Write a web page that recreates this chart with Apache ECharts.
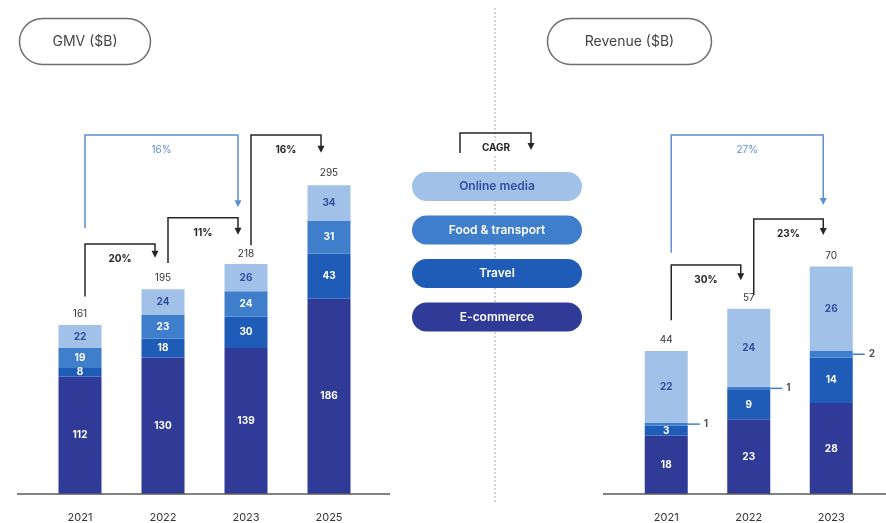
<!DOCTYPE html>
<html>
<head>
<meta charset="utf-8">
<script src="https://cdn.jsdelivr.net/npm/echarts@6/dist/echarts.min.js"></script>
<style>
  html, body { margin: 0; padding: 0; background: #fff; }
  #chart { width: 886px; height: 523px; }
</style>
</head>
<body>
<div id="chart"></div>
<script>
// ---- GMV ($B) by segment ----
const gmvYears = ['2021', '2022', '2023', '2025'];
const gmvEcommerce = [112, 130, 139, 186];
const gmvTravel = [8, 18, 30, 43];
const gmvFood = [19, 23, 24, 31];
const gmvMedia = [22, 24, 26, 34];
const gmvTotals = [161, 195, 218, 295];

// ---- Revenue ($B) by segment ----
const revYears = ['2021', '2022', '2023'];
const revEcommerce = [18, 23, 28];
const revTravel = [3, 9, 14];
const revFood = [1, 1, 2];
const revMedia = [22, 24, 26];
const revTotals = [44, 57, 70];

// ---- CAGR brackets: [fromIndex, toIndex, label] ----
const gmvCagr = [[0, 1, '20%'], [1, 2, '11%'], [2, 3, '16%']];
const gmvCagrLong = [[0, 2, '16%']];
const revCagr = [[0, 1, '30%'], [1, 2, '23%']];
const revCagrLong = [[0, 2, '27%']];

// bracket heights in axis units: [start, top, arrow tip]
const gmvCagrLevels = [[188, 238, 225], [220, 263, 247], [237, 342, 325]];
const gmvCagrLongLevels = [[253, 342, 273]];
const revCagrLevels = [[53.5, 70.5, 65.8], [61.2, 84.6, 79.7]];
const revCagrLongLevels = [[74.2, 110.5, 88.9]];

const segmentNames = ['E-commerce', 'Travel', 'Food & transport', 'Online media'];

const FONT = 'Inter, "Noto Sans", sans-serif';
const C = {
  ecom: '#2f3b97',
  travel: '#1f5cb7',
  food: '#3f7ecb',
  media: '#a2c1e9',
  mediaText: '#2f4f9c',
  dark: '#262626',
  blue: '#5a8fd3',
  grey: '#444'
};
const BAR_W = 43;

const chart = echarts.init(document.getElementById('chart'));

function barSeries(name, data, color, axis, stack, labelColor, showLabel) {
  return {
    name, type: 'bar', stack, data,
    xAxisIndex: axis, yAxisIndex: axis,
    barWidth: BAR_W,
    itemStyle: { color },
    label: {
      show: showLabel, position: 'inside',
      fontFamily: FONT, fontSize: 10, fontWeight: 'bold', color: labelColor
    },
    emphasis: { disabled: true },
    z: 2
  };
}

function totalsSeries(values, axis) {
  return {
    type: 'custom', xAxisIndex: axis, yAxisIndex: axis,
    data: values.map((v, i) => [i, v]),
    encode: { x: 0, y: 1 },
    silent: true, z: 5,
    renderItem: (params, api) => {
      const p = api.coord([api.value(0), api.value(1)]);
      return {
        type: 'text', x: p[0], y: p[1] - 11,
        style: {
          text: String(api.value(1)), align: 'center', verticalAlign: 'middle',
          fill: '#333', fontFamily: FONT, fontSize: 10
        }
      };
    }
  };
}

function bracketSeries(items, levels, axis, color, labelColor, labelWeight) {
  return {
    type: 'custom', xAxisIndex: axis, yAxisIndex: axis,
    data: items.map((it, k) => [it[0], levels[k][0], it[1], levels[k][1], levels[k][2]]),
    encode: { x: 0, y: 1 },
    silent: true, z: 6, clip: false,
    renderItem: (params, api) => {
      const from = api.value(0), to = api.value(2);
      const s = api.coord([from, api.value(1)]);
      const t = api.coord([from, api.value(3)]);
      const e = api.coord([to, api.value(4)]);
      const x0 = s[0] + 5, x1 = e[0] - 8;
      const yTop = t[1], yEnd = e[1];
      const label = items[params.dataIndex][2];
      return {
        type: 'group',
        children: [
          {
            type: 'polyline',
            shape: { points: [[x0, s[1]], [x0, yTop], [x1, yTop], [x1, yEnd - 5]] },
            style: { stroke: color, lineWidth: 1.5, fill: null }
          },
          {
            type: 'polygon',
            shape: { points: [[x1 - 3.5, yEnd - 7], [x1 + 3.5, yEnd - 7], [x1, yEnd]] },
            style: { fill: color }
          },
          {
            type: 'text', x: (x0 + x1) / 2, y: yTop + 15,
            style: {
              text: label, align: 'center', verticalAlign: 'middle',
              fill: labelColor, fontFamily: FONT, fontSize: 10, fontWeight: labelWeight
            }
          }
        ]
      };
    }
  };
}

// small callouts for the thin Food & transport revenue segments
function calloutSeries(values, bases, axis) {
  return {
    type: 'custom', xAxisIndex: axis, yAxisIndex: axis,
    data: values.map((v, i) => [i, bases[i] + v / 2, v]),
    encode: { x: 0, y: 1 },
    silent: true, z: 6,
    renderItem: (params, api) => {
      const p = api.coord([api.value(0), api.value(1)]);
      const xs = p[0] + BAR_W / 2;
      return {
        type: 'group',
        children: [
          {
            type: 'line',
            shape: { x1: xs, y1: p[1], x2: xs + 12, y2: p[1] },
            style: { stroke: C.food, lineWidth: 1.5 }
          },
          {
            type: 'text', x: xs + 16, y: p[1],
            style: {
              text: String(api.value(2)), align: 'left', verticalAlign: 'middle',
              fill: '#555', fontFamily: FONT, fontSize: 10, fontWeight: 'bold'
            }
          }
        ]
      };
    }
  };
}

const revFoodBase = revEcommerce.map((v, i) => v + revTravel[i]);

const axisLabel = { margin: 18, fontSize: 11, color: '#333', fontFamily: FONT };

// legend pills in the middle column
const legendFill = [C.media, C.food, C.travel, C.ecom];
const legendText = ['#2f4f9c', '#fff', '#fff', '#fff'];
const legendOrder = ['Online media', 'Food & transport', 'Travel', 'E-commerce'];
const legendGraphics = legendOrder.map((name, i) => ({
  type: 'group', left: 412, top: 172 + i * 43.5,
  children: [
    { type: 'rect', shape: { x: 0, y: 0, width: 170, height: 29, r: 14.5 }, style: { fill: legendFill[i] } },
    {
      type: 'text', x: 85, y: 14.5,
      style: {
        text: name, align: 'center', verticalAlign: 'middle',
        fill: legendText[i], fontFamily: FONT, fontSize: 12, fontWeight: 600
      }
    }
  ]
}));

function titlePill(x, w, text) {
  return {
    type: 'group', left: x, top: 16,
    children: [
      { type: 'rect', shape: { x: 0, y: 0, width: w, height: 46, r: 23 }, style: { fill: null, stroke: '#6f6f6f', lineWidth: 1.5 } },
      {
        type: 'text', x: w / 2, y: 23,
        style: { text, align: 'center', verticalAlign: 'middle', fill: C.grey, fontFamily: FONT, fontSize: 14 }
      }
    ]
  };
}

chart.setOption({
  animation: false,
  backgroundColor: '#fff',
  grid: [
    { left: 38.5, width: 332, top: 116, height: 378 },
    { left: 625, width: 247.5, top: 120.25, height: 373.75 }
  ],
  xAxis: [
    { type: 'category', gridIndex: 0, data: gmvYears, axisLine: { show: false }, axisTick: { show: false }, axisLabel },
    { type: 'category', gridIndex: 1, data: revYears, axisLine: { show: false }, axisTick: { show: false }, axisLabel }
  ],
  yAxis: [
    { type: 'value', gridIndex: 0, min: 0, max: 360, show: false },
    { type: 'value', gridIndex: 1, min: 0, max: 115, show: false }
  ],
  series: [
    barSeries(segmentNames[0], gmvEcommerce, C.ecom, 0, 'gmv', '#fff', true),
    barSeries(segmentNames[1], gmvTravel, C.travel, 0, 'gmv', '#fff', true),
    barSeries(segmentNames[2], gmvFood, C.food, 0, 'gmv', '#fff', true),
    barSeries(segmentNames[3], gmvMedia, C.media, 0, 'gmv', C.mediaText, true),
    barSeries(segmentNames[0], revEcommerce, C.ecom, 1, 'rev', '#fff', true),
    barSeries(segmentNames[1], revTravel, C.travel, 1, 'rev', '#fff', true),
    barSeries(segmentNames[2], revFood, C.food, 1, 'rev', '#fff', false),
    barSeries(segmentNames[3], revMedia, C.media, 1, 'rev', C.mediaText, true),
    totalsSeries(gmvTotals, 0),
    totalsSeries(revTotals, 1),
    bracketSeries(gmvCagr, gmvCagrLevels, 0, C.dark, C.dark, 'bold'),
    bracketSeries(gmvCagrLong, gmvCagrLongLevels, 0, C.blue, C.blue, 'normal'),
    bracketSeries(revCagr, revCagrLevels, 1, C.dark, C.dark, 'bold'),
    bracketSeries(revCagrLong, revCagrLongLevels, 1, C.blue, C.blue, 'normal'),
    calloutSeries(revFood, revFoodBase, 1)
  ],
  graphic: [
    // dotted divider between the two panels
    { type: 'line', shape: { x1: 495, y1: 8, x2: 495, y2: 502 }, style: { stroke: '#b5b5b5', lineWidth: 1.2, lineDash: [2, 2] }, z: 0 },
    // baselines
    { type: 'line', shape: { x1: 17, y1: 494, x2: 390, y2: 494 }, style: { stroke: '#5a5a5a', lineWidth: 1.5 }, z: 10 },
    { type: 'line', shape: { x1: 603, y1: 494, x2: 886, y2: 494 }, style: { stroke: '#5a5a5a', lineWidth: 1.5 }, z: 10 },
    titlePill(17, 131, 'GMV ($B)'),
    titlePill(545, 164, 'Revenue ($B)'),
    // CAGR key
    { type: 'polyline', shape: { points: [[460, 153], [460, 133], [531, 133], [531, 144]] }, style: { stroke: C.dark, lineWidth: 1.5, fill: null }, z: 10 },
    { type: 'polygon', shape: { points: [[527.5, 143], [534.5, 143], [531, 150]] }, style: { fill: C.dark }, z: 10 },
    { type: 'rect', shape: { x: 475, y: 141, width: 42, height: 14 }, style: { fill: '#fff' }, z: 9 },
    {
      type: 'text', x: 496, y: 148, z: 10,
      style: { text: 'CAGR', align: 'center', verticalAlign: 'middle', fill: C.dark, fontFamily: FONT, fontSize: 10, fontWeight: 'bold' }
    },
    ...legendGraphics
  ]
});
</script>
</body>
</html>
